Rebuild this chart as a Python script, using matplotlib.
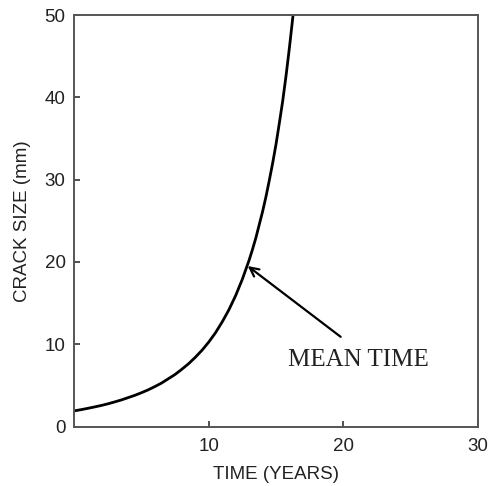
import matplotlib
matplotlib.use("Agg")
import matplotlib.pyplot as plt

time_years = [0, 0.5, 1, 1.5, 2, 2.5, 3, 3.5, 4, 4.5, 5, 5.5, 6, 6.5, 7, 7.5, 8, 8.5, 9, 9.5,
              10, 10.5, 11, 11.5, 12, 12.5, 13, 13.25, 13.5, 13.75, 14, 14.25, 14.5, 14.75,
              15, 15.25, 15.5, 15.75, 16, 16.3]
crack_size = [1.9, 2.04, 2.2, 2.37, 2.55, 2.75, 2.98, 3.22, 3.5, 3.78, 4.1, 4.45, 4.85, 5.28,
              5.8, 6.32, 6.95, 7.62, 8.4, 9.26, 10.25, 11.38, 12.7, 14.18, 15.9, 17.9, 20.2,
              21.5, 22.9, 24.5, 26.1, 27.9, 29.9, 32.0, 34.3, 36.9, 39.6, 42.7, 46.1, 50.5]

x_ticks = [10, 20, 30]
y_ticks = [0, 10, 20, 30, 40, 50]

annot_text = "MEAN TIME"
annot_tip = (12.9, 19.5)
annot_tail = (19.8, 10.9)
annot_text_pos = (15.9, 8.1)

plt.rcParams['font.family'] = ['Liberation Sans', 'DejaVu Sans']

fig = plt.figure(figsize=(4.95, 4.86), dpi=100)
ax = fig.add_axes([0.1495, 0.1224, 0.8162, 0.8466])

ax.plot(time_years, crack_size, color='black', linewidth=2.0, solid_joinstyle='round')

ax.set_xlim(0, 30)
ax.set_ylim(0, 50)
ax.set_xticks(x_ticks)
ax.set_yticks(y_ticks)
ax.tick_params(direction='in', length=4, width=1.2, color='#333333',
               labelsize=13.5, labelcolor='#222222', top=False, right=False)
ax.tick_params(axis='x', pad=8)
ax.tick_params(axis='y', pad=6)
for s in ax.spines.values():
    s.set_color('#555555')
    s.set_linewidth(1.4)

ax.set_xlabel("TIME (YEARS)", fontsize=13.5, color='#222222', labelpad=8)
ax.set_ylabel("CRACK SIZE (mm)", fontsize=13.5, color='#222222', labelpad=10)

ax.annotate("", xy=annot_tip, xytext=annot_tail,
            arrowprops=dict(arrowstyle='->', color='black', lw=1.6,
                            mutation_scale=16, shrinkA=0, shrinkB=0))
ax.text(annot_text_pos[0], annot_text_pos[1], annot_text, fontsize=18,
        family=['Liberation Serif', 'DejaVu Serif'], color='#222222',
        ha='left', va='center')

fig.savefig("out.png", dpi=100)
